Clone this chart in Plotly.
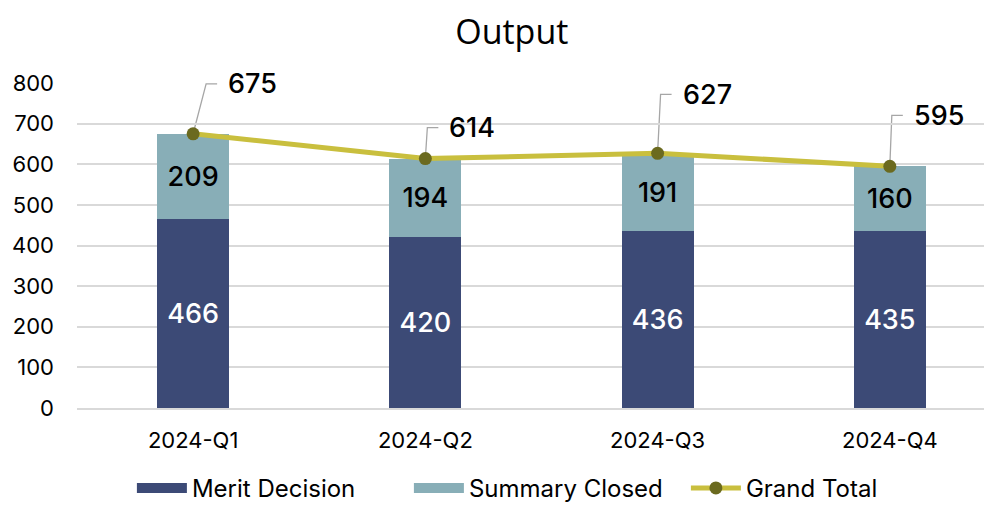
import plotly.graph_objects as go

quarters = ["2024-Q1", "2024-Q2", "2024-Q3", "2024-Q4"]
merit = [466, 420, 436, 435]
summary = [209, 194, 191, 160]
grand_total = [675, 614, 627, 595]

# callout leader geometry (pixels relative to each Grand Total point)
leader_dx = [13, 2, 3, 2]
leader_rise = [50, 31, 59, 51]
STUB = 11
TEXT_GAP = 9

FONT = "Inter"
NAVY = "#3C4A76"
TEAL = "#88AEB7"
fig = go.Figure()
fig.add_trace(go.Bar(
    x=quarters, y=merit, name="Merit Decision", showlegend=False,
    marker=dict(color=NAVY, line=dict(width=0)),
    text=[str(v) for v in merit], textposition="inside", insidetextanchor="middle",
    textfont=dict(family=FONT, size=27, color="white", weight=500), width=0.31,
))
fig.add_trace(go.Bar(
    x=quarters, y=summary, name="Summary Closed", showlegend=False,
    marker=dict(color=TEAL, line=dict(width=0)),
    text=[str(v) for v in summary], textposition="inside", insidetextanchor="middle",
    textfont=dict(family=FONT, size=27, color="black", weight=500), width=0.31,
))
# legend proxies (wide rectangles like the reference legend)
fig.add_trace(go.Scatter(x=[None], y=[None], mode="lines", name="Merit Decision",
                         line=dict(color=NAVY, width=15)))
fig.add_trace(go.Scatter(x=[None], y=[None], mode="lines", name="Summary Closed",
                         line=dict(color=TEAL, width=15)))
fig.add_trace(go.Scatter(
    x=quarters, y=grand_total, name="Grand Total", mode="lines+markers",
    line=dict(color="#C9BF3E", width=5),
    marker=dict(color="#6B6A1F", size=13),
))
for q, v, dx, rise in zip(quarters, grand_total, leader_dx, leader_rise):
    fig.add_shape(
        type="path", xref="x", yref="y", xsizemode="pixel", ysizemode="pixel",
        xanchor=q, yanchor=v,
        path=f"M 0,0 L {dx},{rise} L {dx + STUB},{rise}",
        line=dict(color="#A6A6A6", width=1.3), layer="below",
    )
    fig.add_annotation(
        x=q, y=v, text=str(v), showarrow=False, xanchor="left", yanchor="middle",
        xshift=dx + STUB + TEXT_GAP, yshift=rise,
        font=dict(family=FONT, size=27, color="black", weight=500),
    )

fig.update_layout(
    barmode="stack",
    width=984, height=498,
    margin=dict(l=69, r=0, t=75, b=98, autoexpand=False),
    paper_bgcolor="white", plot_bgcolor="white",
    font=dict(family=FONT, size=22, color="#222"),
    title=dict(text="Output", x=0.512, xanchor="center", y=0.952, yanchor="middle",
               font=dict(family="Open Sans", size=34, color="black")),
    showlegend=True,
    legend=dict(orientation="h", x=0.06, xanchor="left", y=-0.178, yanchor="top",
                font=dict(family=FONT, size=24, color="black"), traceorder="normal",
                itemwidth=50, entrywidth=212, entrywidthmode="pixels"),
    xaxis=dict(range=[-0.5, 3.44], showgrid=False, showline=True, linecolor="#D9D9D9",
               linewidth=1.5, ticks="", tickfont=dict(family=FONT, size=22, color="black"),
               ticklabelstandoff=12),
    yaxis=dict(range=[0, 800], dtick=100, showgrid=True, gridcolor="#D9D9D9", gridwidth=1.5,
               zeroline=False, ticks="", tickfont=dict(family=FONT, size=22, color="black"),
               ticklabelstandoff=22),
)
fig.write_html("out.html")
